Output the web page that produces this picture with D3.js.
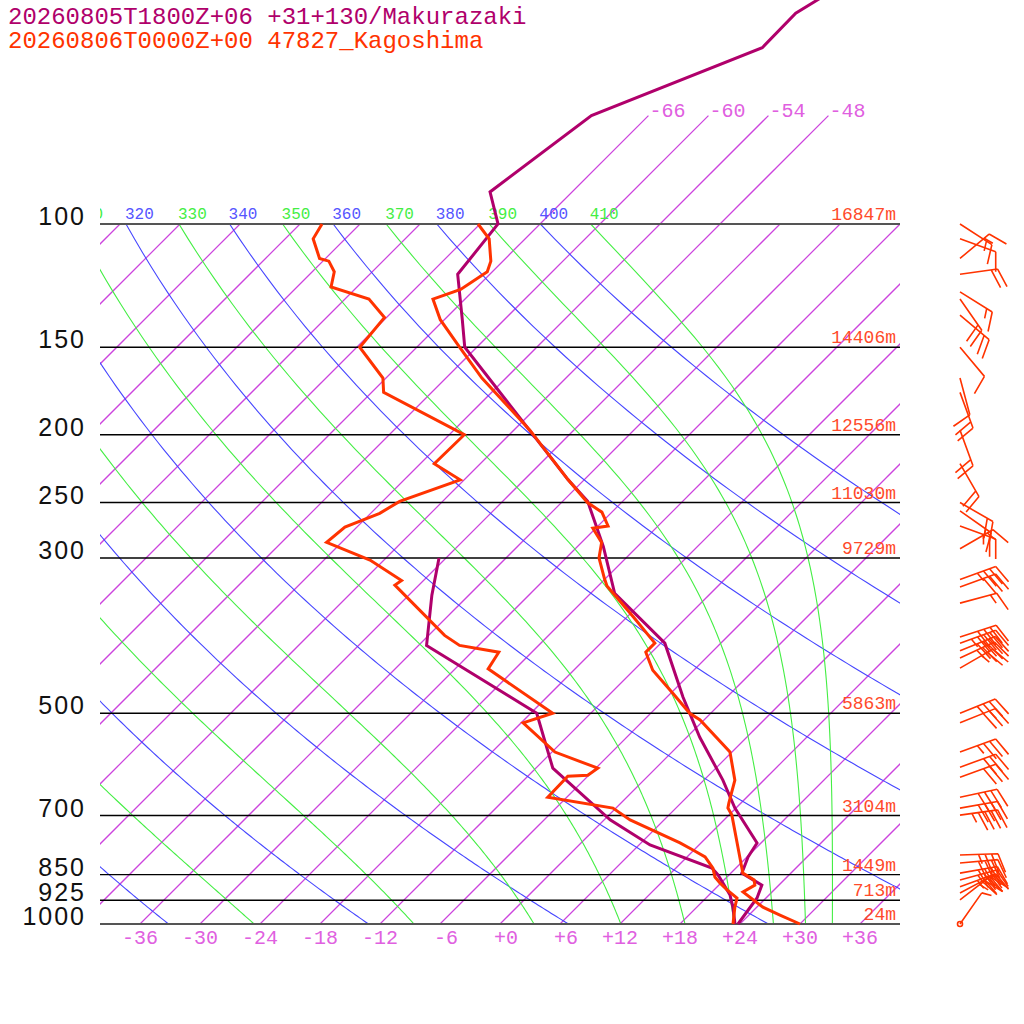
<!DOCTYPE html>
<html>
<head>
<meta charset="utf-8">
<script src="https://cdn.jsdelivr.net/npm/d3@7"></script>
<style>
  body { margin: 0; background: #fff; }
</style>
</head>
<body>
<div id="skewt"></div>
<script>
// ---- data ----
var titles = ["20260805T1800Z+06 +31+130/Makurazaki", "20260806T0000Z+00 47827_Kagoshima"];

var levels  = [100, 150, 200, 250, 300, 500, 700, 850, 925, 1000];
var heights = ["16847m", "14406m", "12556m", "11030m", "9729m", "5863m", "3104m", "1449m", "713m", "24m"];

var tempTicks = [-36, -30, -24, -18, -12, -6, 0, 6, 12, 18, 24, 30, 36];
var isotherms = [-108, -102, -96, -90, -84, -78, -72, -66, -60, -54, -48, -42, -36, -30, -24, -18, -12, -6, 0, 6, 12, 18, 24, 30, 36];
var upperIsotherms = [-66, -60, -54, -48];
var dryTheta   = [240, 260, 280, 300, 320, 340, 360, 380, 400];
var moistTheta = [250, 270, 290, 310, 330, 350, 370, 390, 410];

// Kagoshima 47827 observed
var kagP  = [1000, 971, 946, 900, 880, 865, 846, 699, 683, 672, 623, 568, 511, 500, 468, 434, 409, 397, 364, 329, 321, 300, 285, 272, 270, 258, 250, 232, 197, 166, 150, 137, 128, 124, 117, 113, 105, 100];
var kagT  = [30.0, 27.1, 24.6, 21.1, 21.6, 21.0, 19.2, 12.3, 11.2, 10.8, 9.1, 5.8, -0.4, -2.1, -5.8, -10.1, -12.6, -12.6, -17.4, -23.1, -24.1, -26.7, -28.0, -30.3, -29.0, -31.0, -33.4, -37.6, -46.4, -56.4, -61.7, -66.4, -69.2, -67.4, -66.5, -67.2, -69.6, -72.2];
var kagTdP = [1000, 946, 918, 894, 874, 857, 832, 802, 784, 766, 710, 683, 659, 615, 613, 599, 568, 516, 500, 432, 409, 400, 387, 328, 323, 302, 285, 271, 259, 249, 232, 220, 200, 174, 166, 150, 136, 128, 123, 117, 113, 112, 105, 100];
var kagTd  = [23.3, 21.8, 21.1, 19.3, 17.9, 16.8, 15.7, 13.8, 11.9, 9.9, 2.6, -0.3, -7.9, -8.0, -6.1, -5.8, -11.7, -17.8, -15.8, -26.7, -27.3, -31.9, -34.4, -44.4, -44.2, -49.4, -55.5, -55.2, -53.1, -52.3, -48.4, -52.6, -52.5, -64.8, -66.3, -71.7, -72.2, -75.6, -80.6, -81.8, -83.4, -84.6, -87.2, -87.8];

// Makurazaki forecast
var makP  = [1000, 918, 880, 846, 802, 766, 683, 623, 541, 474, 397, 337, 289, 249, 232, 199, 163, 150, 137, 118, 100, 90, 70, 56, 50, 45];
var makT  = [23.8, 23.1, 22.3, 19.1, 18.1, 17.6, 11.9, 7.9, 1.3, -4.4, -11.6, -21.6, -27.4, -33.5, -37.6, -45.9, -56.7, -61.2, -64.2, -69.2, -70.2, -74.2, -71.7, -61.4, -61.5, -59.5];
var makTdP = [1000, 946, 909, 874, 851, 832, 771, 710, 599, 500, 400, 339, 300];
var makTd  = [23.5, 21.6, 20.1, 18.2, 16.9, 15.6, 7.1, 0.6, -10.3, -17.4, -35.2, -39.7, -42.7];

// Kagoshima winds (deg, knots)
var windP   = [1000, 924, 903, 885, 865, 846, 818, 797, 699, 683, 659, 617, 597, 568, 516, 500, 431, 417, 407, 397, 389, 348, 330, 322, 291, 270, 257, 250, 220, 197, 174, 166, 150, 135, 128, 125, 118, 112, 105, 100];
var windDir = [35, 52, 62, 70, 75, 80, 85, 88, 82, 80, 78, 70, 70, 70, 68, 68, 60, 65, 68, 70, 72, 75, 70, 70, 60, 110, 125, 120, 150, 160, 160, 165, 140, 130, 145, 122, 82, 50, 110, 123];
var windKt  = [5, 25, 30, 35, 35, 40, 40, 35, 45, 40, 40, 30, 30, 35, 30, 35, 25, 35, 40, 45, 40, 15, 30, 35, 15, 25, 15, 20, 20, 20, 20, 10, 10, 20, 20, 15, 20, 15, 10, 15];

var colMak = "#b0006b", colKag = "#ff3300";
var colIso = "#cc44dd", colIsoTxt = "#e060e0";
var colDry = "#4646ff", colMoist = "#44ee44";
var mono = "'Liberation Mono', 'DejaVu Sans Mono', monospace";

// ---- scales ----
var y = d3.scaleLog().domain([1000, 100]).range([924, 224]);
var x0 = d3.scaleLinear().domain([-40, 40]).range([100, 900]);
function sx(t, p) { return x0(t) + (y(1000) - y(p)); }

var svg = d3.select("#skewt").append("svg")
    .attr("width", 1024)
    .attr("height", 1024);

svg.append("clipPath").attr("id", "plotclip")
  .append("rect").attr("x", 100).attr("y", 224).attr("width", 800).attr("height", 700);
svg.append("clipPath").attr("id", "labelclip")
  .append("rect").attr("x", 100).attr("y", 0).attr("width", 800).attr("height", 924);

var line = d3.line().x(function(d) { return sx(d.t, d.p); }).y(function(d) { return y(d.p); });

// pressures for drawing background curves
var pSteps = [];
for (var pp = 1000; pp >= 100; pp -= 5) pSteps.push(pp);

// saturated equivalent potential temperature (Bolton)
function thetaESat(p, tc) {
  var es = 6.112 * Math.exp(17.67 * tc / (tc + 243.5));
  if (es > 0.5 * p) return 1e9;
  var r = 622 * es / (p - es), tk = tc + 273.15;
  return tk * Math.pow(1000 / p, 0.2854 * (1 - 0.00028 * r)) *
         Math.exp((3.376 / tk - 0.00254) * r * (1 + 0.00081 * r));
}
function moistT(the, p) {
  var lo = -160, hi = 60;
  for (var i = 0; i < 60; i++) {
    var mid = (lo + hi) / 2;
    if (thetaESat(p, mid) > the) hi = mid; else lo = mid;
  }
  return (lo + hi) / 2;
}
function dryT(th, p) { return th * Math.pow(p / 1000, 0.2857) - 273.15; }

var grid = svg.append("g").attr("class", "grid").attr("clip-path", "url(#plotclip)");

// isotherms
grid.selectAll("path.iso")
    .data(isotherms)
  .enter().append("path")
    .attr("class", "iso")
    .attr("d", function(t) { return line([{p: 1000, t: t}, {p: 100, t: t}]); })
    .attr("fill", "none")
    .attr("stroke", colIso)
    .attr("stroke-width", 1.25);

// dry adiabats
grid.selectAll("path.dry")
    .data(dryTheta)
  .enter().append("path")
    .attr("class", "dry")
    .attr("d", function(th) { return line(pSteps.map(function(p) { return {p: p, t: dryT(th, p)}; })); })
    .attr("fill", "none")
    .attr("stroke", colDry)
    .attr("stroke-width", 1.1);

// moist adiabats
grid.selectAll("path.moist")
    .data(moistTheta)
  .enter().append("path")
    .attr("class", "moist")
    .attr("d", function(th) { return line(pSteps.map(function(p) { return {p: p, t: moistT(th, p)}; })); })
    .attr("fill", "none")
    .attr("stroke", colMoist)
    .attr("stroke-width", 1.1);

// upper isotherms 100 -> 70 hPa
svg.selectAll("path.uiso")
    .data(upperIsotherms)
  .enter().append("path")
    .attr("class", "uiso")
    .attr("d", function(t) { return line([{p: 100, t: t}, {p: 70, t: t}]); })
    .attr("fill", "none")
    .attr("stroke", colIso)
    .attr("stroke-width", 1.25);

svg.selectAll("text.uiso")
    .data(upperIsotherms)
  .enter().append("text")
    .attr("class", "uiso")
    .attr("x", function(t) { return sx(t, 70) + 1; })
    .attr("y", y(70) + 1)
    .attr("font-family", mono)
    .attr("font-size", 20)
    .attr("fill", colIsoTxt)
    .text(function(t) { return "-" + Math.abs(t); });

// theta labels along 100 hPa (only those reaching into the plot)
var thetaLab = svg.append("g").attr("clip-path", "url(#labelclip)");
var thetaItems = [];
dryTheta.forEach(function(th) { thetaItems.push({th: th, x: sx(dryT(th, 100), 100), c: "#5555ff"}); });
moistTheta.forEach(function(th) { thetaItems.push({th: th, x: sx(moistT(th, 100), 100), c: colMoist}); });
thetaItems = thetaItems.filter(function(d) { return d.x > 70; });
thetaLab.selectAll("text.theta")
    .data(thetaItems)
  .enter().append("text")
    .attr("class", "theta")
    .attr("x", function(d) { return d.x - 1; })
    .attr("y", y(100) - 5)
    .attr("font-family", mono)
    .attr("font-size", 16)
    .attr("fill", function(d) { return d.c; })
    .text(function(d) { return d.th; });

// isobars
svg.selectAll("path.isobar")
    .data(levels)
  .enter().append("path")
    .attr("class", "isobar")
    .attr("d", function(p) { return "M100," + y(p) + "H900"; })
    .attr("fill", "none")
    .attr("stroke", function(p) { return p == 1000 || p == 100 ? "#555" : "#000"; })
    .attr("stroke-width", function(p) { return p == 1000 || p == 100 ? 2 : 1.4; });

// pressure labels
svg.selectAll("text.plab")
    .data(levels)
  .enter().append("text")
    .attr("class", "plab")
    .attr("x", 86)
    .attr("y", function(p) { return y(p) + 1; })
    .attr("text-anchor", "end")
    .attr("font-family", "'Liberation Sans', Arial, sans-serif")
    .attr("font-size", 25)
    .attr("letter-spacing", 2)
    .attr("fill", "#111")
    .text(function(p) { return p; });

// height labels
svg.selectAll("text.hlab")
    .data(levels)
  .enter().append("text")
    .attr("class", "hlab")
    .attr("x", 896)
    .attr("y", function(p) { return y(p) - 4; })
    .attr("text-anchor", "end")
    .attr("font-family", mono)
    .attr("font-size", 18)
    .attr("fill", "#ff4a2a")
    .text(function(p, i) { return heights[i]; });

// temperature ticks at bottom
svg.selectAll("text.tlab")
    .data(tempTicks)
  .enter().append("text")
    .attr("class", "tlab")
    .attr("x", function(t) { return x0(t) + 18; })
    .attr("y", 944)
    .attr("text-anchor", "end")
    .attr("font-family", mono)
    .attr("font-size", 20)
    .attr("fill", colIsoTxt)
    .text(function(t) { return (t < 0 ? "-" : "+") + Math.abs(t); });

// profiles
function prof(ps, ts) { return ps.map(function(p, i) { return {p: p, t: ts[i]}; }); }
var profiles = [
  {d: prof(makTdP, makTd), c: colMak},
  {d: prof(makP, makT), c: colMak},
  {d: prof(kagTdP, kagTd), c: colKag},
  {d: prof(kagP, kagT), c: colKag}
];
svg.selectAll("path.prof")
    .data(profiles)
  .enter().append("path")
    .attr("class", "prof")
    .attr("d", function(d) { return line(d.d); })
    .attr("fill", "none")
    .attr("stroke", function(d) { return d.c; })
    .attr("stroke-width", 3);

// wind barbs
var barbG = svg.append("g").attr("class", "barbs");

function barbPath(bx, by, dir, kt) {
  var a = dir * Math.PI / 180, ux = Math.sin(a), uy = -Math.cos(a);
  var L = 38, th = 70 * Math.PI / 180;
  var fx = ux * Math.cos(th) - uy * Math.sin(th), fy = ux * Math.sin(th) + uy * Math.cos(th);
  var tx = bx + L * ux, ty = by + L * uy;
  var d = "M" + bx + "," + by + "L" + tx + "," + ty;
  var n50 = Math.floor(kt / 50), n10 = Math.floor((kt % 50) / 10), n5 = Math.round((kt % 10) / 5);
  var pos = 0, px, py, i;
  for (i = 0; i < n50; i++) {
    px = tx - pos * ux; py = ty - pos * uy;
    d += "M" + px + "," + py + "L" + (px + 20 * fx) + "," + (py + 20 * fy) + "L" + (px - 7 * ux) + "," + (py - 7 * uy);
    pos += 9;
  }
  for (i = 0; i < n10; i++) {
    px = tx - pos * ux; py = ty - pos * uy;
    d += "M" + px + "," + py + "L" + (px + 20 * fx) + "," + (py + 20 * fy);
    pos += 6.5;
  }
  for (i = 0; i < n5; i++) {
    px = tx - pos * ux; py = ty - pos * uy;
    d += "M" + px + "," + py + "L" + (px + 10 * fx) + "," + (py + 10 * fy);
  }
  return d;
}

barbG.selectAll("path.barb")
    .data(windP)
  .enter().append("path")
    .attr("class", "barb")
    .attr("d", function(p, i) { return barbPath(960, y(p), windDir[i], windKt[i]); })
    .attr("fill", "none")
    .attr("stroke", colKag)
    .attr("stroke-width", 1.6);

barbG.append("circle")
    .attr("cx", 960).attr("cy", y(windP[0]))
    .attr("r", 2.5)
    .attr("fill", "none")
    .attr("stroke", colKag)
    .attr("stroke-width", 1.6);

// titles
svg.selectAll("text.title")
    .data(titles)
  .enter().append("text")
    .attr("class", "title")
    .attr("x", 8)
    .attr("y", function(d, i) { return 24 + i * 24; })
    .attr("font-family", mono)
    .attr("font-size", 24)
    .attr("fill", function(d, i) { return i == 0 ? colMak : colKag; })
    .text(function(d) { return d; });
</script>
</body>
</html>
